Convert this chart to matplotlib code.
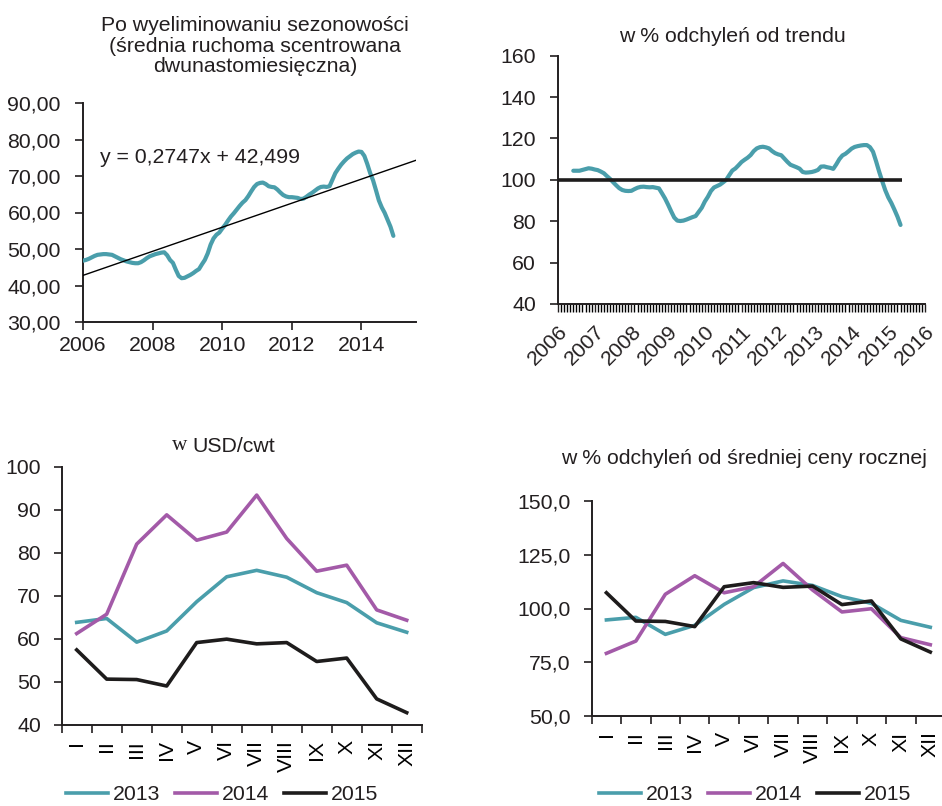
import numpy as np
import matplotlib.pyplot as plt
from matplotlib.ticker import FuncFormatter, MultipleLocator

FS = 15.3
plt.rcParams['font.family'] = ['Liberation Sans', 'DejaVu Sans']
plt.rcParams['font.size'] = FS

W, H = 942, 806
TEAL = '#4a9eab'
PURPLE = '#a35aa8'
BLACK = '#1e1c1c'
TXT = '#231f20'

# deseasonalised price: 12-month centred moving average, one value per month
sa_values = [
    46.8, 47.0, 47.3, 47.7, 48.1, 48.4, 48.5, 48.6, 48.6, 48.5, 48.4, 48.0,
    47.6, 47.2, 46.9, 46.6, 46.4, 46.2, 46.1, 46.1, 46.4, 46.9, 47.5, 48.0,
    48.3, 48.6, 48.8, 49.0, 49.1, 48.3, 47.0, 46.2, 44.3, 42.6, 42.0, 42.1,
    42.5, 42.9, 43.4, 44.0, 44.5, 45.8, 47.0, 48.8, 51.2, 52.9, 53.9, 54.5,
    55.6, 56.6, 57.8, 58.9, 59.8, 60.8, 61.8, 62.7, 63.4, 64.5, 65.8, 67.0,
    67.8, 68.1, 68.2, 67.8, 67.2, 67.0, 66.9, 66.3, 65.5, 64.8, 64.4, 64.2,
    64.2, 64.1, 64.0, 63.7, 63.8, 64.3, 64.9, 65.4, 66.0, 66.6, 67.0, 67.1,
    67.0, 67.2, 69.0, 70.8, 72.0, 73.1, 74.0, 74.8, 75.4, 76.0, 76.4, 76.7,
    76.6, 75.5, 73.3, 70.8, 68.8, 66.1, 63.3, 61.4, 59.9, 58.0, 56.1, 53.6,
]
sa_years = ['2006', '2008', '2010', '2012', '2014']
trend_slope = 0.2747
trend_intercept = 42.499
trend_label = 'y = 0,2747x + 42,499'

# deviation from trend in %, months counted from January 2006
dev_first_month = 5
dev_values = [
    104.4, 104.4, 104.4, 104.8, 105.2, 105.6, 105.4, 105.0, 104.7, 104.0,
    103.2, 101.8, 100.5, 98.9, 97.4, 96.0, 95.1, 94.7, 94.6, 94.7,
    95.5, 96.2, 96.6, 96.7, 96.5, 96.4, 96.5, 96.2, 95.9, 93.5,
    91.0, 88.0, 84.8, 81.8, 80.3, 80.1, 80.3, 80.8, 81.4, 82.0,
    82.5, 84.5, 86.5, 89.5, 91.8, 94.6, 96.3, 97.0, 97.7, 98.8,
    100.0, 102.3, 104.5, 105.5, 107.0, 108.6, 109.7, 110.7, 112.0, 113.9,
    115.2, 115.8, 116.0, 115.7, 115.2, 113.9, 112.9, 112.3, 111.9, 110.3,
    108.7, 107.3, 106.7, 106.1, 105.4, 103.8, 103.5, 103.6, 103.8, 104.2,
    104.8, 106.4, 106.5, 106.1, 105.8, 105.3, 107.5, 110.0, 111.8, 112.6,
    113.8, 115.1, 115.9, 116.3, 116.6, 116.8, 116.8, 115.8, 113.6, 109.0,
    104.0, 99.4, 95.0, 91.5, 88.8, 85.6, 82.2, 78.2,
]
dev_years = [str(y) for y in range(2006, 2017)]
trend_level = 100

months = ['I', 'II', 'III', 'IV', 'V', 'VI', 'VII', 'VIII', 'IX', 'X', 'XI', 'XII']
years = ['2013', '2014', '2015']

# monthly prices, USD/cwt
price_2013 = [63.8, 64.7, 59.2, 61.8, 68.6, 74.4, 75.9, 74.3, 70.7, 68.4, 63.7, 61.5]
price_2014 = [61.2, 65.7, 82.0, 88.8, 82.9, 84.8, 93.4, 83.3, 75.7, 77.1, 66.7, 64.3]
price_2015 = [57.4, 50.6, 50.5, 49.0, 59.1, 59.9, 58.8, 59.1, 54.7, 55.5, 46.0, 42.8]

# prices as % of the yearly average
pct_2013 = [94.7, 95.9, 88.0, 92.2, 101.9, 109.7, 112.8, 110.7, 105.5, 102.4, 94.5, 91.3]
pct_2014 = [79.2, 84.9, 106.6, 115.2, 107.3, 110.1, 120.9, 108.6, 98.4, 99.9, 86.5, 83.2]
pct_2015 = [107.3, 94.2, 94.0, 91.6, 110.1, 112.0, 109.8, 110.4, 101.8, 103.5, 85.9, 79.8]

colors = [TEAL, PURPLE, BLACK]


def box(x0, y0, x1, y1):
    return [x0 / W, 1 - y1 / H, (x1 - x0) / W, (y1 - y0) / H]


def fx(x):
    return x / W


def fy(y):
    return 1 - y / H


def comma(decimals):
    return FuncFormatter(lambda v, pos: f'{v:.{decimals}f}'.replace('.', ','))


def style(ax, ypad):
    for s in ('top', 'right'):
        ax.spines[s].set_visible(False)
    for s in ('left', 'bottom'):
        ax.spines[s].set_linewidth(1.4)
        ax.spines[s].set_color(TXT)
    ax.tick_params(colors=TXT, labelcolor=TXT, length=6, width=1.2, labelsize=FS)
    ax.tick_params(axis='y', pad=ypad)
    ax.set_facecolor('none')


fig = plt.figure(figsize=(W / 100, H / 100), dpi=100)

# --- top left: deseasonalised series with linear trend
ax1 = fig.add_axes(box(83, 103, 416, 322))
style(ax1, 10)
x1 = np.arange(len(sa_values))
ax1.set_xlim(0, 114.8)
ax1.set_ylim(30, 90)
ax1.yaxis.set_major_locator(MultipleLocator(10))
ax1.yaxis.set_major_formatter(comma(2))
ax1.set_xticks(np.arange(len(sa_years)) * 24)
ax1.set_xticklabels(sa_years)
ax1.tick_params(axis='x', pad=4)
ax1.plot(x1, sa_values, color=TEAL, lw=3, solid_capstyle='round', zorder=3)
tx = np.array(ax1.get_xlim())
ax1.plot(tx, trend_slope * (tx + 1) + trend_intercept, color='black', lw=1, zorder=4)
ax1.text(0.051, 0.753, trend_label, transform=ax1.transAxes, va='center', ha='left', color=TXT)
fig.text(fx(255), fy(46), 'Po wyeliminowaniu sezonowości\n(średnia ruchoma scentrowana\ndwunastomiesięczna)',
         ha='center', va='center', color=TXT, linespacing=1.12)

# --- top right: deviation from trend
ax2 = fig.add_axes(box(558, 55.7, 925, 304))
style(ax2, 10)
x2 = np.arange(len(dev_values)) + dev_first_month
ax2.set_xlim(0, 120)
ax2.set_ylim(40, 160)
ax2.yaxis.set_major_locator(MultipleLocator(20))
ax2.set_xticks(np.arange(len(dev_years)) * 12)
ax2.set_xticklabels(dev_years, rotation=45, ha='right', va='top', rotation_mode='anchor')
ax2.xaxis.set_minor_locator(MultipleLocator(1))
ax2.tick_params(axis='x', which='both', length=6, width=1.0, pad=7)
ax2.plot(x2, dev_values, color=TEAL, lw=3, solid_capstyle='round', zorder=3)
ax2.hlines(trend_level, 0, x2[-1] + 0.5, color=BLACK, lw=2.6, zorder=4)
fig.text(fx(732), fy(37), 'w % odchyleń od trendu', ha='center', va='center', color=TXT)

# --- bottom left: monthly prices
ax3 = fig.add_axes(box(61.7, 466.7, 421.7, 724.7))
style(ax3, 9)
ax3.set_ylim(40, 100)
ax3.yaxis.set_major_locator(MultipleLocator(10))
for vals, c, lab in zip([price_2013, price_2014, price_2015], colors, years):
    ax3.plot(range(len(months)), vals, color=c, lw=2.6, label=lab)

# --- bottom right: % of yearly average
ax4 = fig.add_axes(box(591.7, 500.7, 945, 716.3))
style(ax4, 9)
ax4.set_ylim(50, 150)
ax4.yaxis.set_major_locator(MultipleLocator(25))
ax4.yaxis.set_major_formatter(comma(1))
for vals, c, lab in zip([pct_2013, pct_2014, pct_2015], colors, years):
    ax4.plot(range(len(months)), vals, color=c, lw=2.6, label=lab)

for ax in (ax3, ax4):
    ax.set_xlim(-0.5, len(months) - 0.5)
    ax.set_xticks(np.arange(len(months) + 1) - 0.5)
    ax.set_xticklabels([])
    ax.set_xticks(np.arange(len(months)), minor=True)
    ax.set_xticklabels(months, minor=True, rotation=90, va='top', ha='center')
    ax.tick_params(axis='x', which='minor', length=0, pad=11)

fig.text(fx(172), fy(446), 'w', family='Liberation Serif', ha='left', va='center', color=TXT)
fig.text(fx(192), fy(446), 'USD/cwt', ha='left', va='center', color=TXT)
fig.text(fx(744), fy(458), 'w % odchyleń od średniej ceny rocznej', ha='center', va='center', color=TXT)

# legends sit below each chart, drawn at figure level
leg_kw = dict(loc='center', ncol=3, frameon=False, handlelength=2.0, handletextpad=0.2,
              columnspacing=0.7, fontsize=FS, borderaxespad=0, borderpad=0,
              labelcolor=TXT)
for ax, cx in ((ax3, 222), (ax4, 755)):
    handles, labels = ax.get_legend_handles_labels()
    fig.legend(handles, labels, bbox_to_anchor=(fx(cx), fy(795)), **leg_kw)

fig.savefig('out.png', dpi=100)
